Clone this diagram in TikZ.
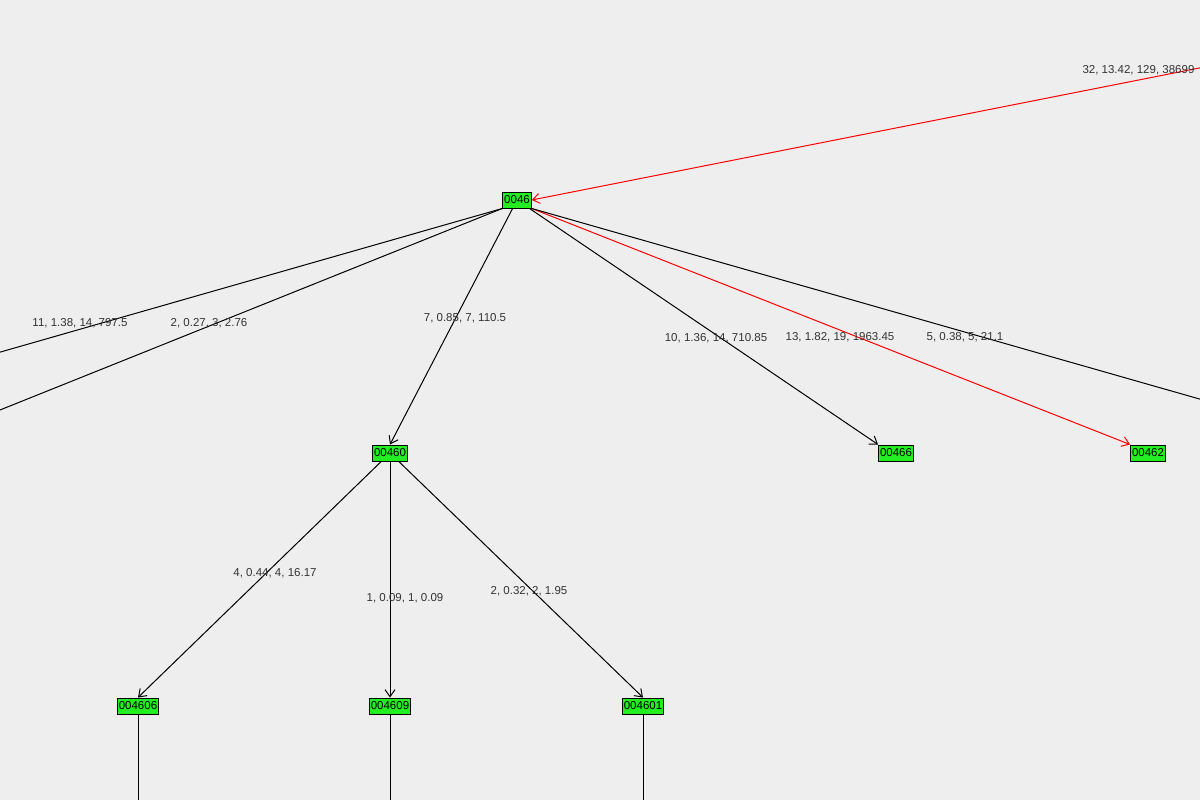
\documentclass[tikz,border=0pt]{standalone}
\usepackage{fontspec}
\setmainfont{Liberation Sans}
\usetikzlibrary{arrows.meta}
\definecolor{bg}{HTML}{EEEEEE}
\definecolor{ng}{HTML}{22EE22}
\begin{document}
\begin{tikzpicture}[x=1pt,y=-1pt,line width=1pt,
  nd/.style={draw=black,fill=ng,inner sep=1.5pt,minimum height=16pt,font=\fontsize{11.5}{12}\selectfont},
  lb/.style={font=\fontsize{11.5}{12}\selectfont,text=black!80,inner sep=0pt},
  ed/.style={draw=black,-{Straight Barb[length=7pt,width=10pt]}},
  rd/.style={draw=red,-{Straight Barb[length=7pt,width=10pt]}},
  pl/.style={draw=black}]
\fill[bg] (0,0) rectangle (1200,800);
\useasboundingbox (0,0) rectangle (1200,800);
\clip (0,0) rectangle (1200,800);
\node[nd] (a) at (517,200) {0046};
\node[nd] (b) at (390,453) {00460};
\node[nd] (c) at (896,453) {00466};
\node[nd] (d) at (1148,453) {00462};
\node[nd] (e) at (138,706) {004606};
\node[nd] (f) at (390,706) {004609};
\node[nd] (g) at (643,706) {004601};
\coordinate (r0) at (1260,56);
\coordinate (l1) at (-10,355);
\coordinate (l2) at (-10,414);
\coordinate (r1) at (1210,402);
\coordinate (e0) at (138,810);
\coordinate (f0) at (390,810);
\coordinate (g0) at (643,810);
\draw[rd] (r0) -- (a.east);
\draw[pl] (a.south west) -- (l1);
\draw[pl] (a.south west) -- (l2);
\draw[ed] (a) -- (b.north);
\draw[ed] (a) -- (c.north west);
\draw[rd] (a.south east) -- (d.north west);
\draw[pl] (a.south east) -- (r1);
\draw[ed] (b) -- (e.north);
\draw[ed] (b) -- (f.north);
\draw[ed] (b) -- (g.north);
\draw[pl] (e) -- (e0);
\draw[pl] (f) -- (f0);
\draw[pl] (g) -- (g0);
\node[lb,anchor=west] (t0) at (1082,70) {32, 13.42, 129, 38699};
\node[lb] (t1) at (80,323) {11, 1.38, 14, 797.5};
\node[lb] (t2) at (209,323) {2, 0.27, 3, 2.76};
\node[lb] (t3) at (465,318) {7, 0.85, 7, 110.5};
\node[lb] (t4) at (716,338) {10, 1.36, 14, 710.85};
\node[lb] (t5) at (840,337) {13, 1.82, 19, 1963.45};
\node[lb] (t6) at (965,337) {5, 0.38, 5, 21.1};
\node[lb] (t7) at (275,573) {4, 0.44, 4, 16.17};
\node[lb] (t8) at (405,598) {1, 0.09, 1, 0.09};
\node[lb] (t9) at (529,591) {2, 0.32, 2, 1.95};
\end{tikzpicture}
\end{document}
